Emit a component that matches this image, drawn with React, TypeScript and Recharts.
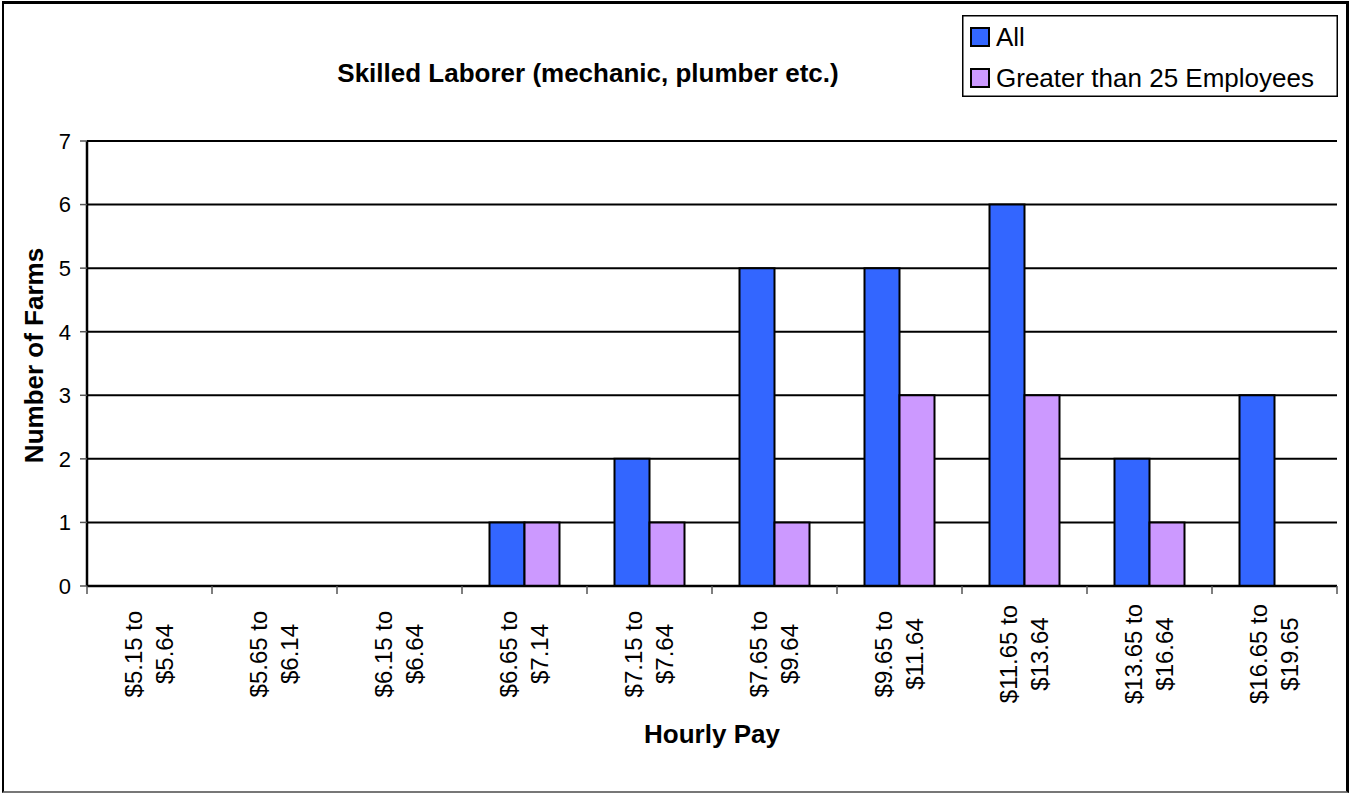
import React from 'react';
import { BarChart, Bar, XAxis, YAxis, CartesianGrid, Legend } from 'recharts';

const rangeStart = ['$5.15', '$5.65', '$6.15', '$6.65', '$7.15', '$7.65', '$9.65', '$11.65', '$13.65', '$16.65'];
const rangeEnd = ['$5.64', '$6.14', '$6.64', '$7.14', '$7.64', '$9.64', '$11.64', '$13.64', '$16.64', '$19.65'];
const allFarms = [0, 0, 0, 1, 2, 5, 5, 6, 2, 3];
const largeFarms = [0, 0, 0, 1, 1, 1, 3, 3, 1, 0];
const yTicks = [0, 1, 2, 3, 4, 5, 6, 7];

const seriesNames = ['All', 'Greater than 25 Employees'];
const seriesColors = ['#3366FF', '#CC99FF'];

const FONT = '"Liberation Sans", Arial, Helvetica, sans-serif';
const W = 1354;
const H = 793;
const MARGIN = { top: 141, right: 17, bottom: 0, left: 0 };
const Y_AXIS_W = 87;
const X_AXIS_H = 207;
const N = rangeStart.length;
const BAND = (W - MARGIN.left - MARGIN.right - Y_AXIS_W) / N;

const data = rangeStart.map((s, i) => ({
  range: `${s} to ${rangeEnd[i]}`,
  all: allFarms[i],
  large: largeFarms[i],
}));

const XTick = (props: any) => {
  const { x, y, payload } = props;
  const i = payload.index;
  const half = BAND / 2;
  return (
    <g>
      <line x1={x - half} x2={x - half} y1={y} y2={y + 8} stroke="#555" strokeWidth={1.5} />
      {i === N - 1 && <line x1={x + half} x2={x + half} y1={y} y2={y + 8} stroke="#555" strokeWidth={1.5} />}
      <text
        transform={`translate(${x - 7.5},${y + 68}) rotate(-90)`}
        textAnchor="middle"
        fontSize={24}
        fontFamily={FONT}
        fill="#000"
      >
        {`${rangeStart[i]} to`}
      </text>
      <text
        transform={`translate(${x + 23},${y + 68}) rotate(-90)`}
        textAnchor="middle"
        fontSize={24}
        fontFamily={FONT}
        fill="#000"
      >
        {rangeEnd[i]}
      </text>
    </g>
  );
};

const YTick = (props: any) => {
  const { x, y, payload } = props;
  return (
    <g>
      <line x1={x + 9} x2={x + 16} y1={y} y2={y} stroke="#555" strokeWidth={1.5} />
      <text
        x={x}
        y={y}
        dy="0.355em"
        textAnchor="end"
        fontSize={22}
        fontFamily={FONT}
        fill="#000"
        style={{ fontSize: '22px', fontFamily: FONT }}
      >
        {String(payload.value)}
      </text>
    </g>
  );
};

const YLabel = (props: any) => {
  const vb = props.viewBox || {};
  const cx = vb.x + 43;
  const cy = vb.y + vb.height / 2 - 8;
  return (
    <text
      transform={`translate(${cx},${cy}) rotate(-90)`}
      textAnchor="middle"
      fontSize={26}
      fontWeight="bold"
      fontFamily={FONT}
      fill="#000"
    >
      Number of Farms
    </text>
  );
};

const XLabel = (props: any) => {
  const vb = props.viewBox || {};
  return (
    <text
      x={vb.x + vb.width / 2}
      y={vb.y + 157}
      textAnchor="middle"
      fontSize={26}
      fontWeight="bold"
      fontFamily={FONT}
      fill="#000"
    >
      Hourly Pay
    </text>
  );
};

const LegendBox = (props: any) => {
  const payload = props.payload || [];
  return (
    <svg width={376} height={82} style={{ display: 'block' }}>
      <rect x={0.75} y={0.75} width={374.5} height={80.5} fill="#fff" stroke="#000" strokeWidth={1.5} />
      {payload.map((p: any, i: number) => (
        <g key={i}>
          <rect x={9} y={13 + i * 41} width={18} height={18} fill={p.color} stroke="#000" strokeWidth={2} />
          <text x={34} y={31 + i * 41} fontSize={26} fontFamily={FONT} fill="#000">
            {p.value}
          </text>
        </g>
      ))}
    </svg>
  );
};

export default function App() {
  return (
    <div style={{ position: 'absolute', left: 0, top: 0, width: W, height: H, background: '#fff' }}>
      <div
        style={{
          position: 'absolute',
          left: 2,
          top: 1,
          width: 1347,
          height: 792,
          boxSizing: 'border-box',
          borderTop: '3px solid #000',
          borderLeft: '2px solid #000',
          borderRight: '3px solid #000',
          borderBottom: '2px solid #777',
        }}
      />
      <BarChart
        width={W}
        height={H}
        data={data}
        margin={MARGIN}
        barCategoryGap="22%"
        barGap={0}
        style={{ position: 'absolute', left: 0, top: 0 }}
      >
        <CartesianGrid vertical={false} stroke="#000" strokeWidth={2} />
        <XAxis
          dataKey="range"
          height={X_AXIS_H}
          interval={0}
          tickLine={false}
          tickSize={0}
          tickMargin={0}
          axisLine={{ stroke: '#000', strokeWidth: 2.5 }}
          tick={<XTick />}
          label={<XLabel />}
        />
        <YAxis
          width={Y_AXIS_W}
          domain={[0, 7]}
          ticks={yTicks}
          interval={0}
          allowDecimals={false}
          tickSize={7}
          tickMargin={9}
          tickLine={false}
          axisLine={{ stroke: '#000', strokeWidth: 2.5 }}
          tick={<YTick />}
          label={<YLabel />}
        />
        <YAxis
          yAxisId="right"
          orientation="right"
          width={0}
          domain={[0, 7]}
          ticks={yTicks}
          tick={false}
          tickLine={false}
          axisLine={{ stroke: '#000', strokeWidth: 2.5 }}
        />
        <Legend
          layout="horizontal"
          align="center"
          verticalAlign="middle"
          wrapperStyle={{ left: 962, top: 15, width: 376, height: 82 }}
          content={(p: any) => <LegendBox payload={p.payload} />}
        />
        <Bar dataKey="all" name={seriesNames[0]} fill={seriesColors[0]} stroke="#000" strokeWidth={2} isAnimationActive={false} />
        <Bar dataKey="large" name={seriesNames[1]} fill={seriesColors[1]} stroke="#000" strokeWidth={2} isAnimationActive={false} />
      </BarChart>
      <svg
        width={W}
        height={H}
        style={{ position: 'absolute', left: 0, top: 0, pointerEvents: 'none' }}
      >
        <text x={588} y={82} textAnchor="middle" fontSize={26} fontWeight="bold" fontFamily={FONT} fill="#000">
          Skilled Laborer (mechanic, plumber etc.)
        </text>
      </svg>
    </div>
  );
}
